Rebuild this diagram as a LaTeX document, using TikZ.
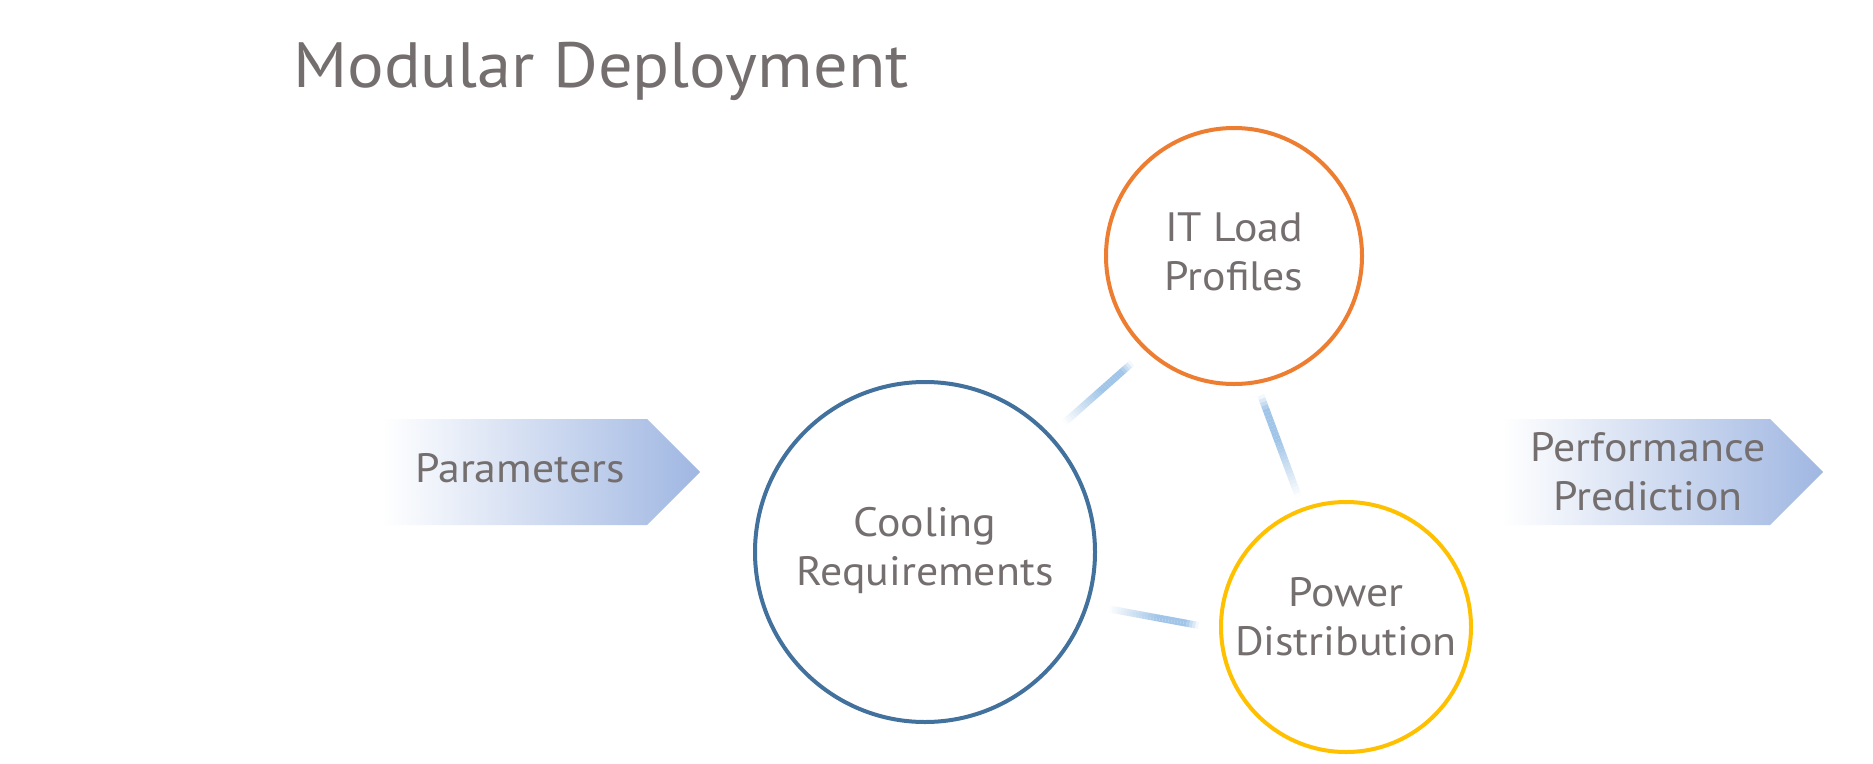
\documentclass[tikz,border=0pt]{standalone}
\usepackage{fontspec}
\setmainfont{PT Sans}[FakeStretch=1.07]
\usetikzlibrary{calc}

\definecolor{txtgray}{RGB}{116,110,110}
\definecolor{coolblue}{RGB}{65,113,156}
\definecolor{loadorange}{RGB}{237,125,49}
\definecolor{poweryellow}{RGB}{255,192,0}
\definecolor{linkblue}{RGB}{160,197,232}
\definecolor{chevblue}{RGB}{160,183,226}

\tikzset{
  ring/.style={circle, inner sep=0pt, line width=4pt, fill=white},
  label/.style={text=txtgray, font=\fontsize{41}{49}\selectfont, align=center, inner sep=0pt},
  chevron/.style={left color=white, right color=chevblue, draw=none},
}

% soft connector: a thick line that fades out towards its first end
\newcommand\fadelink[2]{%
  \foreach \i in {0,...,29}{%
    \pgfmathsetmacro\ta{\i/30}%
    \pgfmathsetmacro\tb{(\i+1)/30}%
    \pgfmathsetmacro\tm{(\i+0.5)/30}%
    \pgfmathsetmacro\op{min(1,1.8*\tm)*min(1,7*(1-\tm))}%
    \draw[linkblue, line width=7pt, draw opacity=\op]
      ($(#1)!\ta!(#2)$) -- ($(#1)!\tb!(#2)$);
  }%
}

\begin{document}
\begin{tikzpicture}[x=1pt, y=-1pt]
  \useasboundingbox[fill=white] (0,0) rectangle (1873,763);

  % title
  \node[anchor=base west, text=txtgray, inner sep=0pt,
        font=\fontsize{64}{70}\selectfont] (title) at (293,87) {Modular Deployment};

  % input and output chevrons
  \path[chevron] (382,419) -- (647,419) -- (700,472) -- (647,525) -- (382,525) -- cycle;
  \node[label] (params) at (520,468) {Parameters};

  \path[chevron] (1502,419) -- (1770,419) -- (1823,472) -- (1770,525) -- (1502,525) -- cycle;
  \node[label] (perf) at (1648,472) {Performance\\Prediction};

  % the three factors
  \node[ring, draw=coolblue, minimum size=340pt] (cool) at (925,552) {};
  \node[ring, draw=loadorange, minimum size=256pt] (load) at (1234,256) {};
  \node[ring, draw=poweryellow, minimum size=250pt] (power) at (1346,627) {};

  \node[label] (cooltxt) at ($(cool)+(0,-2)$) {Cooling\\Requirements};
  \node[label] (loadtxt) at ($(load)+(0,-4)$) {IT Load\\Profiles};
  \node[label] (powertxt) at ($(power)+(0,-10)$) {Power\\Distribution};

  % links between the factors
  \coordinate (a1) at ($(cool.43)!18pt!(load.227)$);
  \coordinate (a2) at ($(load.227)!18pt!(cool.43)$);
  \coordinate (b1) at ($(power.110)!12pt!(load.280)$);
  \coordinate (b2) at ($(load.280)!12pt!(power.110)$);
  \coordinate (c1) at ($(cool.342)!21pt!(power.181)$);
  \coordinate (c2) at ($(power.181)!21pt!(cool.342)$);
  \fadelink{a1}{a2}
  \fadelink{b1}{b2}
  \fadelink{c1}{c2}
\end{tikzpicture}
\end{document}
